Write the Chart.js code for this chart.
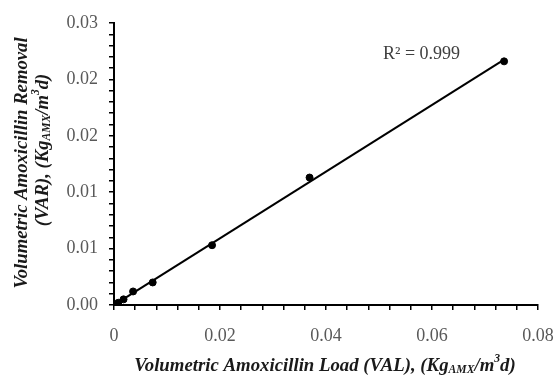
<!DOCTYPE html>
<html>
<head>
<meta charset="utf-8">
<script src="https://cdn.jsdelivr.net/npm/chart.js@4.4.0/dist/chart.umd.min.js"></script>
<style>
html,body{margin:0;padding:0;background:#fff;}
#wrap{width:555px;height:378px;position:relative;}
</style>
</head>
<body>
<div id="wrap"><canvas id="c" width="555" height="378"></canvas></div>
<script>
// Data
const loadVAL    = [0, 0.0008, 0.0018, 0.0036, 0.0073, 0.0185, 0.0369, 0.0736];
const removalVAR = [0, 0.0002, 0.0005, 0.0012, 0.0020, 0.0053, 0.0113, 0.0216];
const xTickLabels = ['0', '0.02', '0.04', '0.06', '0.08'];
const yTickLabels = ['0.00', '0.01', '0.01', '0.02', '0.02', '0.03'];
const rSquaredText = 'R² = 0.999';

// least squares trendline from data
function fit(xs, ys) {
  const n = xs.length;
  let sx = 0, sy = 0, sxx = 0, sxy = 0;
  for (let i = 0; i < n; i++) { sx += xs[i]; sy += ys[i]; sxx += xs[i]*xs[i]; sxy += xs[i]*ys[i]; }
  const m = (n*sxy - sx*sy) / (n*sxx - sx*sx);
  const b = (sy - m*sx) / n;
  return {m, b};
}
const lf = fit(loadVAL, removalVAR);
const xmin = Math.min(...loadVAL), xmax = Math.max(...loadVAL);
const trend = [{x: xmin, y: lf.m*xmin + lf.b}, {x: xmax, y: lf.m*xmax + lf.b}];
const points = loadVAL.map((x, i) => ({x, y: removalVAR[i]}));

const serif = '"Liberation Serif", "Times New Roman", serif';

function drawRich(ctx, segs, x, y, size, align) {
  let total = 0;
  const fs = s => s.mode === 'n' ? size : size * 0.62;
  segs.forEach(s => { ctx.font = 'italic bold ' + fs(s) + 'px ' + serif; s.w = ctx.measureText(s.t).width; total += s.w; });
  let cx = align === 'center' ? x - total/2 : x;
  segs.forEach(s => {
    ctx.font = 'italic bold ' + fs(s) + 'px ' + serif;
    let dy = 0;
    if (s.mode === 'sub') dy = size * 0.22;
    if (s.mode === 'sup') dy = -size * 0.36;
    ctx.fillText(s.t, cx, y + dy);
    cx += s.w;
  });
}

const titlesPlugin = {
  id: 'titles',
  afterDraw(chart) {
    const ctx = chart.ctx;
    ctx.save();
    ctx.fillStyle = '#1a1a1a';
    ctx.textBaseline = 'middle';
    ctx.textAlign = 'left';
    // x title
    drawRich(ctx, [
      {t: 'Volumetric Amoxicillin Load (VAL), (Kg', mode: 'n'},
      {t: 'AMX', mode: 'sub'},
      {t: '/m', mode: 'n'},
      {t: '3', mode: 'sup'},
      {t: 'd)', mode: 'n'}
    ], 325, 366, 18.8, 'center');
    // y title (rotated, two lines)
    ctx.save();
    ctx.translate(22, 163);
    ctx.rotate(-Math.PI/2);
    drawRich(ctx, [{t: 'Volumetric Amoxicillin Removal', mode: 'n'}], 0, 0, 18.7, 'center');
    ctx.restore();
    ctx.save();
    ctx.translate(43, 150);
    ctx.rotate(-Math.PI/2);
    drawRich(ctx, [
      {t: '(VAR), (Kg', mode: 'n'},
      {t: 'AMX', mode: 'sub'},
      {t: '/m', mode: 'n'},
      {t: '3', mode: 'sup'},
      {t: 'd)', mode: 'n'}
    ], 0, 0, 18.7, 'center');
    ctx.restore();
    // R squared label
    ctx.font = '18px ' + serif;
    ctx.fillStyle = '#404040';
    ctx.textAlign = 'left';
    ctx.fillText(rSquaredText, 383, 54);
    ctx.restore();
  }
};

const near = (v, step) => Math.abs(v/step - Math.round(v/step)) < 1e-6;

new Chart(document.getElementById('c'), {
  type: 'scatter',
  data: {
    datasets: [
      {
        type: 'line',
        data: trend,
        borderColor: '#000',
        borderWidth: 2,
        pointRadius: 0,
        fill: false,
        order: 2
      },
      {
        data: points,
        backgroundColor: '#000',
        borderColor: '#000',
        pointRadius: 3.5,
        pointHoverRadius: 3.5,
        order: 1
      }
    ]
  },
  options: {
    responsive: false,
    animation: false,
    events: [],
    layout: {padding: {left: 0, right: 17, top: 23, bottom: 0}},
    plugins: {legend: {display: false}, tooltip: {enabled: false}},
    scales: {
      x: {
        type: 'linear',
        min: 0, max: 0.08,
        afterFit(s) { s.height = 73; s.paddingLeft = 0; s.paddingRight = 0; },
        border: {display: true, color: '#000', width: 2},
        grid: {drawOnChartArea: false, drawTicks: true, tickLength: 5, color: '#000', lineWidth: 1.5},
        ticks: {
          stepSize: 0.004,
          autoSkip: false,
          maxRotation: 0,
          padding: 15,
          color: '#595959',
          font: {family: serif, size: 18},
          callback(v) {
            if (!near(v, 0.02)) return '';
            return xTickLabels[Math.round(v/0.02)];
          }
        }
      },
      y: {
        type: 'linear',
        min: 0, max: 0.025,
        afterFit(s) { s.width = 114; s.paddingTop = 0; s.paddingBottom = 0; },
        border: {display: true, color: '#000', width: 2},
        grid: {drawOnChartArea: false, drawTicks: true, tickLength: 5, color: '#000', lineWidth: 1.5},
        ticks: {
          stepSize: 0.001,
          autoSkip: false,
          padding: 11,
          color: '#595959',
          font: {family: serif, size: 18},
          callback(v) {
            if (!near(v, 0.005)) return '';
            return yTickLabels[Math.round(v/0.005)];
          }
        }
      }
    }
  },
  plugins: [titlesPlugin]
});
</script>
</body>
</html>
